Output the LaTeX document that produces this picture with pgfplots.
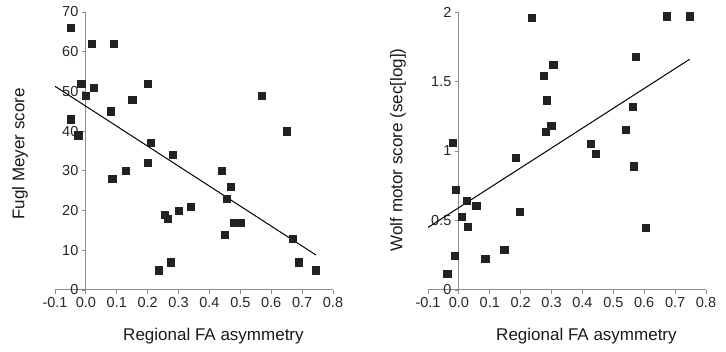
\documentclass[border=0pt]{standalone}
\usepackage{pgfplots}
\pgfplotsset{compat=1.18}
\usepackage{fontspec}
\setmainfont{Liberation Sans}
\definecolor{axgray}{HTML}{8C8C8C}
\definecolor{markc}{HTML}{222222}
\pgfplotsset{
  myax/.style={
    scale only axis, width=278pt, height=278pt,
    axis lines=middle,
    axis line style={-, axgray, line width=1pt},
    hide obscured x ticks=false, hide obscured y ticks=false,
    enlargelimits=false, clip=false,
    xmin=-0.1, xmax=0.8,
    xtick={-0.1,0,0.1,0.2,0.3,0.4,0.5,0.6,0.7,0.8},
    xticklabels={-0.1,0.0,0.1,0.2,0.3,0.4,0.5,0.6,0.7,0.8},
    tick align=outside,
    major tick length=4pt,
    tick style={axgray, line width=0.8pt},
    ticklabel style={font=\fontsize{14.5}{16}\selectfont, text=black!85},
    label style={font=\fontsize{17}{20}\selectfont, text=black!90},
    xlabel style={at={(axis description cs:0.57,-0.165)}, anchor=center},
    xlabel={Regional FA asymmetry},
  },
  pts/.style={only marks, mark=square*, mark size=3.6pt, mark options={draw=markc, fill=markc}},
  fit/.style={black, line width=1pt, no marks},
}
\begin{document}
\begin{tikzpicture}
\useasboundingbox (0,0) rectangle (726pt,352pt);
\begin{axis}[myax, at={(55pt,62pt)}, anchor=south west,
  ymin=0, ymax=70,
  ytick={0,10,20,30,40,50,60,70},
  yticklabels={0,10,20,30,40,50,60,70},
  ylabel={Fugl Meyer score},
  ylabel style={at={(axis description cs:-0.126,0.489)}, anchor=center, rotate=90},
]
\addplot[pts] coordinates {
(-0.05,66) (0.02,62) (0.09,62) (-0.015,52) (0.025,51) (0.0,49) (0.2,52) (0.15,48)
(0.08,45) (0.57,49) (0.65,40) (-0.05,43) (-0.025,39) (0.21,37) (0.28,34) (0.2,32)
(0.13,30) (0.44,30) (0.085,28) (0.47,26) (0.455,23) (0.255,19) (0.265,18) (0.3,20)
(0.34,21) (0.45,14) (0.48,17) (0.5,17) (0.67,13) (0.69,7) (0.745,5) (0.275,7) (0.235,5)
};
\addplot[fit] coordinates {(-0.1,51.3) (0.745,8.8)};
\end{axis}
\begin{axis}[myax, at={(428pt,62pt)}, anchor=south west,
  ymin=0, ymax=2,
  ytick={0,0.5,1,1.5,2},
  yticklabels={0,0.5,1,1.5,2},
  ylabel={Wolf motor score (sec[log])},
  ylabel style={at={(axis description cs:-0.108,0.504)}, anchor=center, rotate=90},
]
\addplot[pts] coordinates {
(0.235,1.96) (0.673,1.97) (0.746,1.97) (0.572,1.68) (0.305,1.62) (0.274,1.54)
(0.285,1.366) (0.562,1.318) (0.299,1.184) (0.281,1.138) (0.54,1.155) (-0.019,1.06)
(0.427,1.05) (0.443,0.98) (0.184,0.95) (0.567,0.89) (-0.011,0.724) (0.026,0.642)
(0.056,0.604) (0.198,0.566) (0.009,0.527) (0.028,0.455) (0.604,0.45) (-0.014,0.244)
(0.147,0.29) (0.085,0.228) (-0.038,0.117)
};
\addplot[fit] coordinates {(-0.1,0.45) (0.747,1.66)};
\end{axis}
\end{tikzpicture}
\end{document}
